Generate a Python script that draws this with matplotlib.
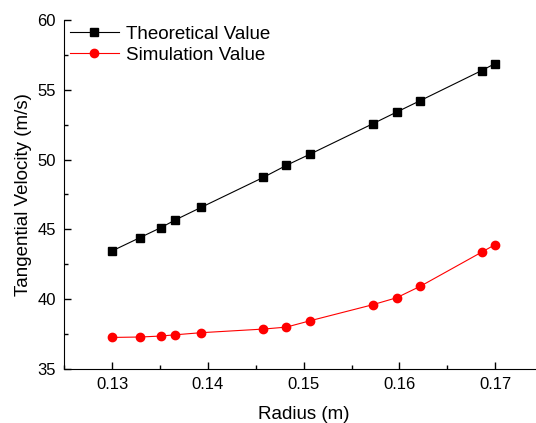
import numpy as np
import matplotlib
matplotlib.use("Agg")
import matplotlib.pyplot as plt
from matplotlib.ticker import MultipleLocator

plt.rcParams['font.family'] = ['Liberation Sans', 'DejaVu Sans']

radius = [0.1300, 0.1329, 0.1351, 0.1366, 0.1393, 0.1458, 0.1482, 0.1507,
          0.1572, 0.1597, 0.1622, 0.1686, 0.1700]
theoretical = [43.46, 44.41, 45.13, 45.68, 46.58, 48.73, 49.59, 50.40,
               52.56, 53.40, 54.23, 56.38, 56.88]
simulation = [37.26, 37.29, 37.36, 37.45, 37.60, 37.86, 38.00, 38.46,
              39.60, 40.10, 40.93, 43.37, 43.91]

fig = plt.figure(figsize=(5.36, 4.23), dpi=100)
ax = fig.add_axes([0.12, 0.1277, 0.893, 0.825])

ax.plot(radius, theoretical, color='black', lw=0.8, marker='s', markersize=5.5,
        label='Theoretical Value')
ax.plot(radius, simulation, color='red', lw=0.8, marker='o', markersize=6,
        label='Simulation Value')

ax.set_xlim(0.125, 0.175)
ax.set_ylim(35, 60)
ax.xaxis.set_minor_locator(MultipleLocator(0.005))
ax.yaxis.set_major_locator(MultipleLocator(5))
ax.yaxis.set_minor_locator(MultipleLocator(2.5))
ax.set_xticks([0.13, 0.14, 0.15, 0.16, 0.17])
ax.set_xticklabels(['0.13', '0.14', '0.15', '0.16', '0.17'])

ax.spines['top'].set_visible(False)
ax.spines['right'].set_visible(False)
ax.tick_params(which='major', direction='in', length=5, width=1, labelsize=12, pad=6)
ax.tick_params(which='minor', direction='in', length=3, width=1)

ax.set_xlabel('Radius (m)', fontsize=13.5, labelpad=10)
ax.set_ylabel('Tangential Velocity (m/s)', fontsize=13.5, labelpad=4)

ax.legend(loc='upper left', frameon=False, fontsize=13.5, handlelength=2.6,
          handletextpad=0.4, borderaxespad=0.2, labelspacing=0.2,
          borderpad=0.1)

fig.savefig('out.png', dpi=100)
